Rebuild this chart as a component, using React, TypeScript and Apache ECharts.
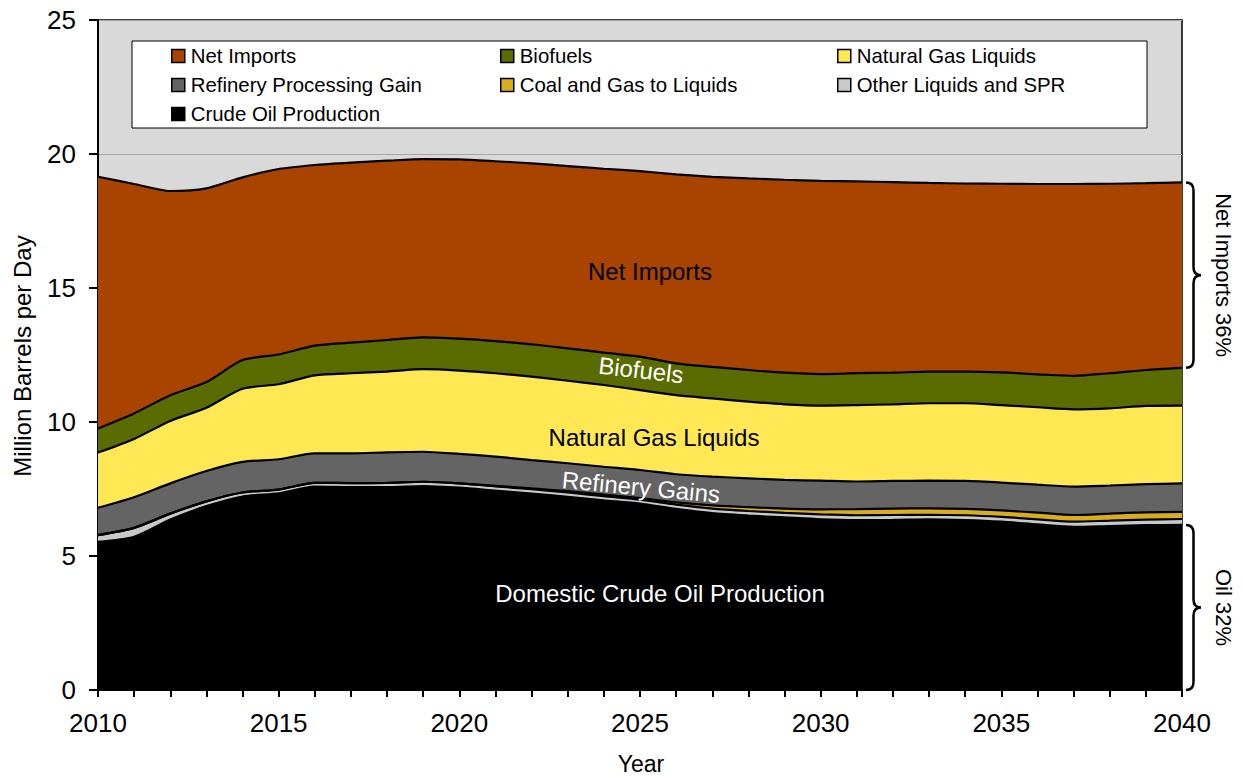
import React, { useEffect, useRef } from "react";
import * as echarts from "echarts";

const years = ["2010","2011","2012","2013","2014","2015","2016","2017","2018","2019","2020","2021","2022","2023","2024","2025","2026","2027","2028","2029","2030","2031","2032","2033","2034","2035","2036","2037","2038","2039","2040"];

const crudeOil = [5.53,5.72,6.36,6.86,7.22,7.34,7.59,7.57,7.57,7.61,7.55,7.44,7.33,7.21,7.08,6.96,6.76,6.60,6.51,6.44,6.37,6.34,6.35,6.37,6.34,6.28,6.18,6.09,6.12,6.15,6.16];
const otherLiquids = [0.25,0.33,0.22,0.18,0.15,0.14,0.14,0.15,0.16,0.16,0.16,0.16,0.16,0.16,0.15,0.14,0.16,0.17,0.17,0.17,0.18,0.18,0.18,0.17,0.18,0.18,0.19,0.19,0.20,0.21,0.22];
const coalGasToLiquids = [0,0,0,0,0,0,0,0,0,0,0,0.02,0.03,0.05,0.06,0.06,0.08,0.12,0.14,0.16,0.19,0.23,0.24,0.24,0.24,0.24,0.25,0.25,0.26,0.27,0.27];
const refineryGain = [1.02,1.14,1.13,1.13,1.14,1.13,1.10,1.11,1.14,1.12,1.10,1.09,1.06,1.04,1.04,1.05,1.05,1.07,1.08,1.07,1.07,1.03,1.03,1.03,1.04,1.04,1.04,1.06,1.05,1.05,1.06];
const naturalGasLiquids = [2.06,2.18,2.33,2.36,2.73,2.80,2.91,2.99,3.01,3.08,3.11,3.11,3.11,3.08,3.05,2.98,2.95,2.92,2.86,2.82,2.80,2.85,2.86,2.89,2.90,2.89,2.89,2.88,2.88,2.92,2.90];
const biofuels = [0.90,0.95,0.96,0.96,1.07,1.11,1.11,1.14,1.18,1.19,1.19,1.20,1.21,1.21,1.21,1.25,1.19,1.18,1.18,1.18,1.18,1.19,1.18,1.18,1.18,1.22,1.23,1.25,1.31,1.34,1.41];
const netImports = [9.39,8.56,7.62,7.23,6.82,6.92,6.74,6.72,6.69,6.65,6.69,6.71,6.75,6.80,6.86,6.92,7.05,7.09,7.15,7.20,7.21,7.16,7.11,7.04,7.02,7.04,7.10,7.16,7.07,6.97,6.92];

const seriesNames = ["Crude Oil Production","Other Liquids and SPR","Coal and Gas to Liquids","Refinery Processing Gain","Natural Gas Liquids","Biofuels","Net Imports"];
const seriesData = [crudeOil, otherLiquids, coalGasToLiquids, refineryGain, naturalGasLiquids, biofuels, netImports];
const seriesColors = ["#000000","#c9c9c9","#d9ad1c","#646464","#ffe854","#5a6b02","#a84400"];

const yTicks = { min: 0, max: 25, interval: 5 };
const FONT = "'Liberation Sans', Arial, sans-serif";

const Brace = echarts.graphic.extendShape({
  shape: { x: 0, y1: 0, y2: 0, w: 14 },
  buildPath(ctx: any, shape: any) {
    const { x, y1, y2, w } = shape;
    const xm = x + w * 0.5;
    const mid = (y1 + y2) / 2;
    const r = 8;
    ctx.moveTo(x, y1);
    ctx.quadraticCurveTo(xm, y1, xm, y1 + r);
    ctx.lineTo(xm, mid - r);
    ctx.quadraticCurveTo(xm, mid, x + w, mid);
    ctx.quadraticCurveTo(xm, mid, xm, mid + r);
    ctx.lineTo(xm, y2 - r);
    ctx.quadraticCurveTo(xm, y2, x, y2);
  },
});
echarts.graphic.registerShape("brace", Brace);

export default function App() {
  const ref = useRef<HTMLDivElement>(null);
  useEffect(() => {
    if (!ref.current) return;
    const chart = echarts.init(ref.current, null, { renderer: "svg" });
    const legendCommon = {
      orient: "vertical",
      top: 45,
      padding: 0,
      itemWidth: 13,
      itemHeight: 13,
      itemGap: 7,
      icon: "rect",
      selectedMode: false,
      itemStyle: { borderColor: "#000", borderWidth: 1.5 },
      lineStyle: { width: 0 },
      textStyle: { fontFamily: FONT, fontSize: 20.4, color: "#000", lineHeight: 22, padding: [0, 0, 0, 1] },
    };
    chart.setOption({
      animation: false,
      textStyle: { fontFamily: FONT },
      grid: {
        left: 98, right: 61, top: 20, bottom: 86,
        show: true, backgroundColor: "#d9d9d9", borderColor: "#000", borderWidth: 1.5,
      },
      legend: [
        { ...legendCommon, left: 171, data: ["Net Imports", "Refinery Processing Gain", "Crude Oil Production"] },
        { ...legendCommon, left: 500, data: ["Biofuels", "Coal and Gas to Liquids"] },
        { ...legendCommon, left: 837, data: ["Natural Gas Liquids", "Other Liquids and SPR"] },
      ],
      xAxis: {
        type: "category",
        data: years,
        boundaryGap: false,
        axisLine: { lineStyle: { color: "#000", width: 2 } },
        axisTick: { show: true, interval: 0, length: 7, lineStyle: { color: "#000", width: 2 } },
        axisLabel: { interval: 4, fontSize: 26, color: "#000", margin: 20, fontFamily: FONT },
        splitLine: { show: false },
      },
      yAxis: {
        type: "value",
        min: yTicks.min, max: yTicks.max, interval: yTicks.interval,
        axisLine: { show: true, lineStyle: { color: "#000", width: 2 } },
        axisTick: { show: true, length: 9, lineStyle: { color: "#000", width: 2 } },
        axisLabel: { fontSize: 26, color: "#000", margin: 22, fontFamily: FONT },
        splitLine: { show: true, lineStyle: { color: "#a6a6a6", width: 1 } },
      },
      series: seriesNames.map((name, i) => ({
        name,
        type: "line",
        stack: "total",
        data: seriesData[i],
        symbol: "none",
        smooth: 0.25,
        itemStyle: { color: seriesColors[i], borderColor: "#000", borderWidth: 1.5 },
        lineStyle: { color: "#000", width: 2.2 },
        areaStyle: { color: seriesColors[i], opacity: 1 },
        z: 2,
      })),
    });

    const last = years.length - 1;
    const total2040 = seriesData.reduce((s, arr) => s + arr[last], 0);
    const bioTop2040 = total2040 - netImports[last];
    const yTotal = chart.convertToPixel({ yAxisIndex: 0 }, total2040) as number;
    const yBio = chart.convertToPixel({ yAxisIndex: 0 }, bioTop2040) as number;
    const yCrude = chart.convertToPixel({ yAxisIndex: 0 }, crudeOil[last]) as number;
    const yZero = chart.convertToPixel({ yAxisIndex: 0 }, 0) as number;
    const xRight = chart.convertToPixel({ xAxisIndex: 0 }, years[last]) as number;

    const label = (text: string, x: number, y: number, color: string, size: number, rotation = 0) => ({
      type: "text", x, y, rotation, z: 100,
      style: { text, fill: color, fontSize: size, fontFamily: FONT, align: "center", verticalAlign: "middle" },
    });

    chart.setOption({
      graphic: [
        { type: "rect", shape: { x: 132, y: 41, width: 1015, height: 87 }, style: { fill: "#fff", stroke: "#000", lineWidth: 1 }, z: 3 },
        label("Net Imports", 650, 271, "#000", 24),
        label("Biofuels", 641, 370, "#fff", 24, -0.115),
        label("Natural Gas Liquids", 654, 437, "#000", 24),
        label("Refinery Gains", 641, 487, "#fff", 24, -0.095),
        label("Domestic Crude Oil Production", 660, 593, "#fff", 24),
        { type: "brace", shape: { x: xRight + 4, y1: yTotal, y2: yBio, w: 15 }, style: { stroke: "#000", lineWidth: 2.5, fill: null }, z: 100 },
        { type: "brace", shape: { x: xRight + 4, y1: yCrude, y2: yZero, w: 15 }, style: { stroke: "#000", lineWidth: 2.5, fill: null }, z: 100 },
        label("Net Imports 36%", 1223, (yTotal + yBio) / 2, "#000", 22, -Math.PI / 2),
        label("Oil 32%", 1223, (yCrude + yZero) / 2, "#000", 22, -Math.PI / 2),
        label("Million Barrels per Day", 22, 356, "#000", 24, Math.PI / 2),
        label("Year", 641, 764, "#000", 23),
      ],
    });
    return () => chart.dispose();
  }, []);
  return <div ref={ref} style={{ position: "fixed", left: 0, top: 0, width: 1243, height: 776, background: "#fff" }} />;
}
